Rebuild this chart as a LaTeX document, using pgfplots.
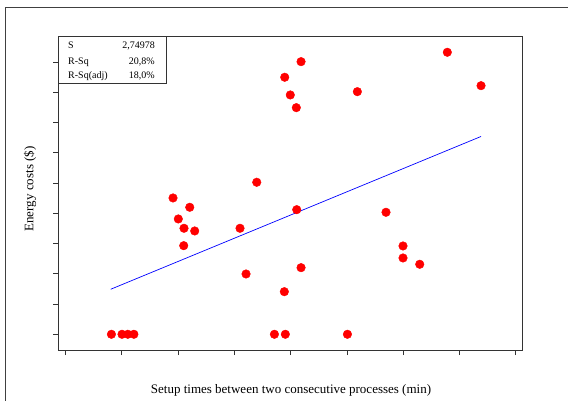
\documentclass[border=0pt]{standalone}
\usepackage{pgfplots}
\pgfplotsset{compat=1.18}
\usepackage{fontspec}
\setmainfont{Liberation Serif}

\begin{document}
\begin{tikzpicture}
    % page = 568 x 401 (1pt per pixel), y measured downward from the top
    \useasboundingbox (0pt,0pt) rectangle (568pt,-401pt);
    % outer frame (cut off on the right and at the bottom)
    \draw[black!75, line width=0.8pt] (5pt,-401pt) -- (5pt,-7pt) -- (568pt,-7pt);

    \begin{axis}[
        at={(58pt,-350pt)}, anchor=south west,
        scale only axis,
        width=464.7pt, height=314pt,
        xmin=-0.13, xmax=8.124,
        ymin=-0.52, ymax=9.86,
        xtick={0,...,8}, ytick={0,...,9},
        xticklabels={}, yticklabels={},
        xtick pos=bottom, ytick pos=left,
        tick align=outside,
        major tick length=5pt,
        tick style={black!80, line width=0.6pt},
        axis line style={black!80, line width=0.9pt},
        clip=false,
    ]
        % fitted line
        \addplot[blue, line width=0.7pt] coordinates {(0.806,1.488) (7.384,6.539)};

        % observations
        \addplot[only marks, mark=*, mark size=4.3pt, red, mark options={draw=red, fill=red}] coordinates {
            (0.819,0) (1.007,0) (1.110,0) (1.218,0) (3.714,0) (3.908,0) (5.011,0)
            (1.913,4.506) (2.210,4.198) (2.007,3.812) (2.108,3.504) (2.298,3.415)
            (2.103,2.929) (3.103,3.504) (3.400,5.025) (3.210,1.993)
            (4.187,9.012) (3.897,8.496) (3.996,7.911) (4.103,7.491) (5.187,8.020)
            (4.110,4.119) (5.696,4.033) (5.998,2.919) (5.998,2.522) (4.187,2.202)
            (3.890,1.408) (6.785,9.322) (7.384,8.218) (6.295,2.314)
        };
    \end{axis}

    % statistics box
    \draw[black!80, line width=0.8pt, fill=white] (58pt,-36pt) rectangle (166pt,-83pt);
    \begin{scope}[every node/.style={font=\fontsize{10}{12}\selectfont, inner sep=0pt}]
        \node[anchor=base west] at (68pt,-49pt) {S};
        \node[anchor=base west] at (68pt,-64.5pt) {R-Sq};
        \node[anchor=base west] at (68pt,-79pt) {R-Sq(adj)};
        \node[anchor=base east] at (155pt,-49pt) {2,74978};
        \node[anchor=base east] at (155pt,-64.5pt) {20,8\%};
        \node[anchor=base east] at (155pt,-79pt) {18,0\%};
    \end{scope}

    % axis titles
    \node[rotate=90, font=\fontsize{13}{15}\selectfont] at (30pt,-189pt) {Energy costs (\$)};
    \node[font=\fontsize{13}{15}\selectfont] at (291pt,-390pt) {Setup times between two consecutive processes (min)};
\end{tikzpicture}
\end{document}
